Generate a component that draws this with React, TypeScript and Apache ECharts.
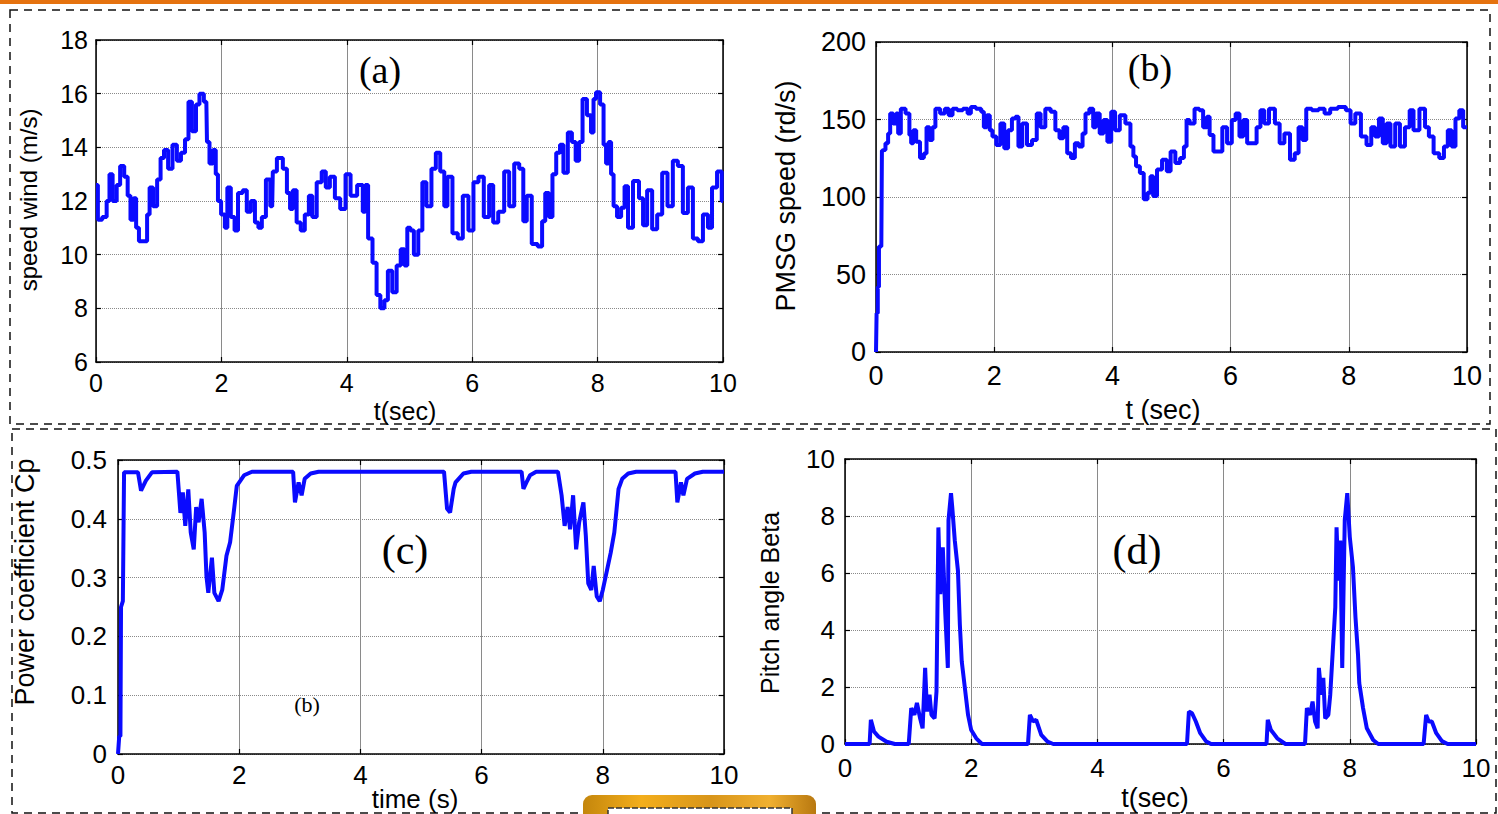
import React, { useEffect, useRef } from "react";
import * as echarts from "echarts";

// ---------------- DATA ----------------
const timeRange = [0, 10];
const timeInterval = 2;

// (a) wind speed (m/s) vs t (s)
const windSpeed: [number, number][] = [
  [0, 12.6], [0.06, 11.3], [0.14, 11.4], [0.2, 12.0], [0.23, 13.0], [0.3, 12.0], [0.36, 12.6], [0.41, 13.3],
  [0.49, 12.9], [0.52, 12.2], [0.58, 11.3], [0.62, 12.1], [0.66, 11.0], [0.71, 10.5], [0.79, 10.5], [0.84, 11.5],
  [0.87, 12.5], [0.95, 11.8], [1.0, 12.8], [1.06, 13.6], [1.11, 13.9], [1.19, 13.2], [1.25, 14.1], [1.33, 13.5],
  [1.38, 13.8], [1.46, 14.3], [1.49, 15.7], [1.57, 14.6], [1.62, 15.6], [1.68, 16.0], [1.76, 15.7], [1.78, 14.2],
  [1.84, 13.4], [1.89, 13.9], [1.93, 13.0], [1.96, 12.0], [2.03, 11.5], [2.08, 11.0], [2.11, 12.5], [2.19, 11.4],
  [2.23, 10.9], [2.3, 12.3], [2.38, 12.4], [2.43, 11.6], [2.51, 12.0], [2.56, 11.2], [2.62, 11.0], [2.67, 11.4],
  [2.75, 12.8], [2.81, 11.8], [2.83, 13.1], [2.94, 13.6], [3.02, 13.2], [3.07, 12.3], [3.12, 11.7], [3.16, 12.4],
  [3.24, 11.2], [3.29, 10.9], [3.37, 11.5], [3.42, 12.2], [3.48, 11.4], [3.56, 12.7], [3.64, 13.1], [3.69, 12.5],
  [3.77, 12.9], [3.85, 12.1], [3.94, 11.7], [4.02, 13.0], [4.1, 12.2], [4.23, 12.6], [4.28, 11.6], [4.31, 12.6],
  [4.37, 10.6], [4.45, 9.7], [4.5, 8.5], [4.57, 8.0], [4.63, 8.3], [4.68, 9.4], [4.77, 8.6], [4.82, 9.6],
  [4.9, 10.2], [4.94, 9.6], [4.99, 11.0], [5.04, 10.9], [5.1, 10.0], [5.18, 10.9], [5.23, 12.7], [5.31, 11.8],
  [5.39, 13.2], [5.45, 13.8], [5.53, 13.1], [5.58, 11.8], [5.63, 12.9], [5.74, 10.8], [5.8, 10.6], [5.9, 12.2],
  [5.98, 10.9], [6.06, 12.7], [6.14, 12.9], [6.23, 11.4], [6.31, 12.6], [6.36, 11.2], [6.47, 11.6], [6.55, 13.1],
  [6.63, 11.8], [6.71, 13.4], [6.79, 13.2], [6.84, 11.25], [6.9, 12.2], [7.0, 10.4], [7.09, 10.3], [7.14, 11.25],
  [7.19, 12.3], [7.26, 11.4], [7.3, 13.0], [7.38, 13.8], [7.42, 14.1], [7.49, 13.05], [7.56, 14.55], [7.62, 14.2],
  [7.68, 13.5], [7.73, 14.2], [7.79, 15.8], [7.87, 15.2], [7.92, 14.55], [7.95, 15.8], [8.0, 16.05], [8.08, 15.6],
  [8.11, 14.1], [8.16, 13.4], [8.19, 14.2], [8.24, 13.0], [8.27, 11.8], [8.35, 11.4], [8.4, 11.75], [8.46, 12.55],
  [8.51, 11.0], [8.62, 12.75], [8.7, 12.1], [8.75, 11.1], [8.83, 12.4], [8.91, 10.95], [8.99, 11.5], [9.07, 13.05],
  [9.16, 11.8], [9.24, 13.5], [9.32, 13.3], [9.4, 11.55], [9.48, 12.5], [9.56, 10.6], [9.64, 10.5], [9.72, 11.5],
  [9.8, 11.0], [9.85, 12.5], [9.96, 13.1], [10.0, 12.0],
];

// (b) PMSG speed (rd/s) vs t (s)
const pmsgSpeed: [number, number][] = [
  [0, 0], [0.02, 25], [0.04, 42], [0.06, 68], [0.09, 68], [0.11, 130], [0.13, 130.4], [0.19, 134.7], [0.22, 141],
  [0.26, 153.8], [0.32, 147.4], [0.36, 153.8], [0.39, 141], [0.45, 157], [0.55, 153.8], [0.58, 140], [0.61, 134.7],
  [0.65, 143], [0.71, 135.7], [0.78, 125.1], [0.84, 128], [0.87, 145], [0.94, 136.8], [0.97, 145], [1.04, 157],
  [1.13, 153.8], [1.2, 157], [1.26, 152.8], [1.33, 157], [1.42, 156], [1.52, 157], [1.58, 153.8], [1.63, 158],
  [1.75, 157], [1.81, 155], [1.84, 145], [1.91, 152.8], [1.94, 143], [2.0, 139], [2.07, 133.6], [2.14, 147.4],
  [2.2, 131.5], [2.27, 143], [2.33, 150.6], [2.39, 151.7], [2.43, 132.6], [2.52, 147.4], [2.59, 133.6], [2.69, 136.8],
  [2.75, 153.8], [2.82, 145], [2.91, 157], [3.0, 155], [3.07, 143], [3.14, 137.9], [3.2, 145], [3.27, 128.3],
  [3.33, 125.1], [3.4, 134.7], [3.46, 132.6], [3.53, 141], [3.56, 153.8], [3.66, 157], [3.69, 145], [3.75, 153.8],
  [3.82, 141], [3.88, 149.6], [3.95, 135.7], [4.01, 155], [4.08, 143], [4.17, 152.8], [4.27, 147.4], [4.34, 132.6],
  [4.37, 126.2], [4.43, 119.8], [4.5, 115.5], [4.56, 98.5], [4.63, 102.8], [4.66, 113.4], [4.72, 100.6], [4.79, 117.7],
  [4.89, 124], [4.95, 116.6], [5.02, 129.4], [5.11, 121.9], [5.18, 125.1], [5.24, 132.6], [5.27, 149.6], [5.34, 147.4],
  [5.44, 157], [5.5, 156], [5.57, 145], [5.63, 151.7], [5.66, 140], [5.76, 129.4], [5.83, 129.4], [5.89, 145],
  [5.99, 134.7], [6.05, 149.6], [6.12, 153.8], [6.18, 139], [6.25, 149.6], [6.31, 134.7], [6.41, 134.7], [6.47, 145],
  [6.54, 156], [6.6, 147.4], [6.7, 157], [6.8, 147.4], [6.86, 134.7], [6.96, 141], [7.05, 124], [7.12, 128.3],
  [7.18, 145], [7.25, 136.8], [7.31, 157], [7.44, 156], [7.54, 157], [7.64, 153.8], [7.73, 157], [7.9, 158],
  [8.0, 156], [8.06, 147.4], [8.16, 153.8], [8.25, 139], [8.35, 133.6], [8.41, 145], [8.48, 139], [8.54, 150.6],
  [8.61, 134.7], [8.67, 147.4], [8.74, 132.6], [8.83, 147.4], [8.9, 132.6], [9.0, 145], [9.06, 156], [9.13, 143],
  [9.26, 157], [9.32, 145], [9.39, 139], [9.48, 128.3], [9.58, 125.1], [9.64, 132.6], [9.71, 143], [9.77, 132.6],
  [9.84, 150.6], [9.9, 156], [9.97, 145], [10, 145],
];

// (c) power coefficient Cp vs time (s)
const powerCoeff: [number, number][] = [
  [0, 0], [0.02, 0.03], [0.04, 0.03], [0.05, 0.25], [0.08, 0.26], [0.1, 0.479], [0.33, 0.479], [0.38, 0.448],
  [0.46, 0.465], [0.56, 0.479], [0.98, 0.48], [1.03, 0.41], [1.07, 0.445], [1.11, 0.388], [1.16, 0.45], [1.2, 0.377],
  [1.25, 0.348], [1.29, 0.42], [1.33, 0.394], [1.38, 0.434], [1.43, 0.377], [1.46, 0.302], [1.49, 0.274], [1.55, 0.334],
  [1.59, 0.274], [1.66, 0.26], [1.72, 0.279], [1.79, 0.337], [1.85, 0.36], [1.92, 0.42], [1.96, 0.456], [2.08, 0.474],
  [2.21, 0.48], [2.89, 0.48], [2.92, 0.428], [2.98, 0.462], [3.03, 0.44], [3.08, 0.468], [3.18, 0.477], [3.31, 0.48],
  [5.38, 0.48], [5.43, 0.417], [5.48, 0.411], [5.54, 0.451], [5.57, 0.462], [5.7, 0.477], [5.83, 0.48], [6.66, 0.48],
  [6.69, 0.451], [6.74, 0.462], [6.8, 0.474], [6.9, 0.48], [7.26, 0.48], [7.32, 0.44], [7.37, 0.388], [7.42, 0.42],
  [7.46, 0.382], [7.51, 0.44], [7.56, 0.348], [7.61, 0.394], [7.68, 0.428], [7.72, 0.371], [7.76, 0.29], [7.81, 0.279],
  [7.85, 0.32], [7.9, 0.268], [7.95, 0.26], [8.0, 0.279], [8.06, 0.308], [8.13, 0.342], [8.19, 0.377], [8.26, 0.451],
  [8.32, 0.468], [8.42, 0.477], [8.55, 0.48], [9.2, 0.48], [9.23, 0.428], [9.29, 0.462], [9.33, 0.44], [9.39, 0.468],
  [9.52, 0.477], [9.65, 0.48], [10, 0.48],
];

// (d) pitch angle Beta vs t (s)
const pitchAngle: [number, number][] = [
  [0, 0], [0.39, 0], [0.41, 0.85], [0.46, 0.44], [0.53, 0.26], [0.66, 0.08], [0.79, 0], [1.01, 0], [1.05, 1.26],
  [1.1, 1.02], [1.14, 1.44], [1.19, 0.9], [1.23, 0.55], [1.27, 2.67], [1.3, 1.14], [1.34, 1.73], [1.37, 1.02],
  [1.42, 0.9], [1.45, 1.85], [1.48, 7.6], [1.51, 5.26], [1.55, 6.9], [1.59, 4.55], [1.63, 2.67], [1.64, 7.85],
  [1.68, 8.8], [1.7, 8.3], [1.74, 7.14], [1.79, 6.08], [1.82, 4.2], [1.85, 2.9], [1.9, 1.96], [1.95, 1.02],
  [2.0, 0.49], [2.08, 0.2], [2.17, 0], [2.9, 0], [2.93, 1.02], [2.98, 0.79], [3.03, 0.85], [3.11, 0.32], [3.21, 0.08],
  [3.3, 0], [5.42, 0], [5.45, 1.14], [5.5, 1.08], [5.56, 0.79], [5.63, 0.38], [5.72, 0.1], [5.8, 0], [6.68, 0],
  [6.7, 0.85], [6.75, 0.49], [6.85, 0.2], [6.98, 0], [7.29, 0], [7.32, 1.26], [7.37, 1.02], [7.41, 1.49], [7.45, 0.79],
  [7.49, 0.55], [7.51, 2.67], [7.55, 1.73], [7.58, 2.32], [7.61, 0.9], [7.66, 1.02], [7.69, 1.73], [7.77, 4.79],
  [7.79, 7.6], [7.82, 5.73], [7.85, 7.14], [7.88, 2.67], [7.92, 7.85], [7.96, 8.8], [8.0, 7.26], [8.05, 6.2],
  [8.09, 4.44], [8.13, 3.14], [8.15, 2.14], [8.21, 1.26], [8.27, 0.55], [8.37, 0.14], [8.45, 0], [9.17, 0],
  [9.21, 1.02], [9.25, 0.79], [9.3, 0.79], [9.37, 0.38], [9.46, 0.1], [9.55, 0], [10, 0],
];

const yRangeA = [6, 18, 2];
const yRangeB = [0, 200, 50];
const yRangeC = [0, 0.5, 0.1];
const yRangeD = [0, 10, 2];

// ---------------- LAYOUT ----------------
const SANS = "'Liberation Sans', Arial, sans-serif";
const SERIF = "'Liberation Serif', 'Times New Roman', serif";

const panels = [
  { grid: { left: 96, top: 40, width: 627, height: 322 }, y: yRangeA, data: windSpeed, fs: 25, xm: 8, ym: 8, step: "middle", fmt: null },
  { grid: { left: 876, top: 42, width: 591, height: 310 }, y: yRangeB, data: pmsgSpeed, fs: 27, xm: 10, ym: 10, step: "middle", fmt: null },
  { grid: { left: 118, top: 460, width: 606, height: 294 }, y: yRangeC, data: powerCoeff, fs: 26, xm: 8, ym: 11, step: false, fmt: (v: number) => (v === 0 ? "0" : v.toFixed(1)) },
  { grid: { left: 845, top: 459, width: 631, height: 285 }, y: yRangeD, data: pitchAngle, fs: 26, xm: 11, ym: 10, step: false, fmt: null },
];

export default function App() {
  const ref = useRef<HTMLDivElement>(null);
  useEffect(() => {
    if (!ref.current) return;
    const chart = echarts.init(ref.current, null, { renderer: "svg" });

    const grids: any[] = [];
    const xAxes: any[] = [];
    const yAxes: any[] = [];
    const series: any[] = [];
    const axisLine = { show: true, onZero: false, lineStyle: { color: "#000", width: 1.5 } };
    const tick = { show: true, inside: true, length: 5, lineStyle: { color: "#000", width: 1.2 } };

    panels.forEach((p, i) => {
      grids.push({ ...p.grid, show: false });
      const xBase = { type: "value", gridIndex: i, min: timeRange[0], max: timeRange[1], interval: timeInterval, axisLine, axisTick: tick };
      xAxes.push({
        ...xBase, position: "bottom",
        axisLabel: { color: "#000", fontFamily: SANS, fontSize: p.fs, margin: p.xm },
        splitLine: { show: true, lineStyle: { color: "#8a8a8a", width: 1, type: "solid" } },
      });
      xAxes.push({ ...xBase, position: "top", axisLabel: { show: false }, splitLine: { show: false } });
      const yBase = { type: "value", gridIndex: i, min: p.y[0], max: p.y[1], interval: p.y[2], axisLine, axisTick: tick };
      yAxes.push({
        ...yBase, position: "left",
        axisLabel: { color: "#000", fontFamily: SANS, fontSize: p.fs, margin: p.ym, ...(p.fmt ? { formatter: p.fmt } : {}) },
        splitLine: { show: true, lineStyle: { color: "#8a8a8a", width: 1, type: "dotted" } },
      });
      yAxes.push({ ...yBase, position: "right", axisLabel: { show: false }, splitLine: { show: false } });
      series.push({
        type: "line", xAxisIndex: 2 * i, yAxisIndex: 2 * i, data: p.data, showSymbol: false, symbol: "none",
        step: p.step, lineStyle: { color: "#0a0aff", width: 4 }, z: 5,
      });
    });

    const txt = (text: string, x: number, y: number, font: string, rot = 0) => ({
      type: "text", x, y, rotation: rot, z: 10,
      style: { text, font, fill: "#000", textAlign: "center", textVerticalAlign: "middle" },
    });

    const graphic: any[] = [
      { type: "rect", shape: { x: 0, y: 0, width: 1498, height: 4 }, style: { fill: "#e5720f" }, z: 1 },
      { type: "rect", shape: { x: 10, y: 10, width: 1480, height: 414 }, style: { fill: "none", stroke: "#111", lineWidth: 1.5, lineDash: [8, 6] }, z: 1 },
      { type: "rect", shape: { x: 12, y: 429, width: 1484, height: 384 }, style: { fill: "none", stroke: "#111", lineWidth: 1.5, lineDash: [8, 6] }, z: 1 },
      txt("speed wind (m/s)", 28, 200, `24px ${SANS}`, Math.PI / 2),
      txt("PMSG speed (rd/s)", 786, 196, `27px ${SANS}`, Math.PI / 2),
      txt("Power coefficient Cp", 25, 582, `27px ${SANS}`, Math.PI / 2),
      txt("Pitch angle Beta", 770, 603, `25px ${SANS}`, Math.PI / 2),
      txt("t(sec)", 405, 411, `25px ${SANS}`),
      txt("t (sec)", 1163, 410, `27px ${SANS}`),
      txt("time (s)", 415, 799, `26px ${SANS}`),
      txt("t(sec)", 1155, 798, `27px ${SANS}`),
      txt("(a)", 380, 70, `38px ${SERIF}`),
      txt("(b)", 1150, 68, `38px ${SERIF}`),
      txt("(c)", 405, 550, `42px ${SERIF}`),
      txt("(d)", 1137, 550, `42px ${SERIF}`),
      txt("(b)", 307, 704, `22px ${SERIF}`),
      {
        type: "rect", z: 11, shape: { x: 583, y: 795, width: 233, height: 36, r: 9 },
        style: {
          fill: new echarts.graphic.LinearGradient(0, 0, 1, 0, [
            { offset: 0, color: "#c4860c" }, { offset: 0.25, color: "#f3ae1c" }, { offset: 0.55, color: "#d8951a" },
            { offset: 0.8, color: "#f0b030" }, { offset: 1, color: "#b87810" },
          ]),
        },
      },
      { type: "rect", z: 12, shape: { x: 608, y: 808, width: 184, height: 20 }, style: { fill: "#fff", stroke: "#333", lineWidth: 1.5, lineDash: [6, 2] } },
    ];

    chart.setOption({
      animation: false,
      backgroundColor: "#fff",
      grid: grids,
      xAxis: xAxes,
      yAxis: yAxes,
      series,
      graphic,
    });
    return () => chart.dispose();
  }, []);
  return <div ref={ref} style={{ position: "absolute", left: 0, top: 0, width: 1498, height: 814 }} />;
}
